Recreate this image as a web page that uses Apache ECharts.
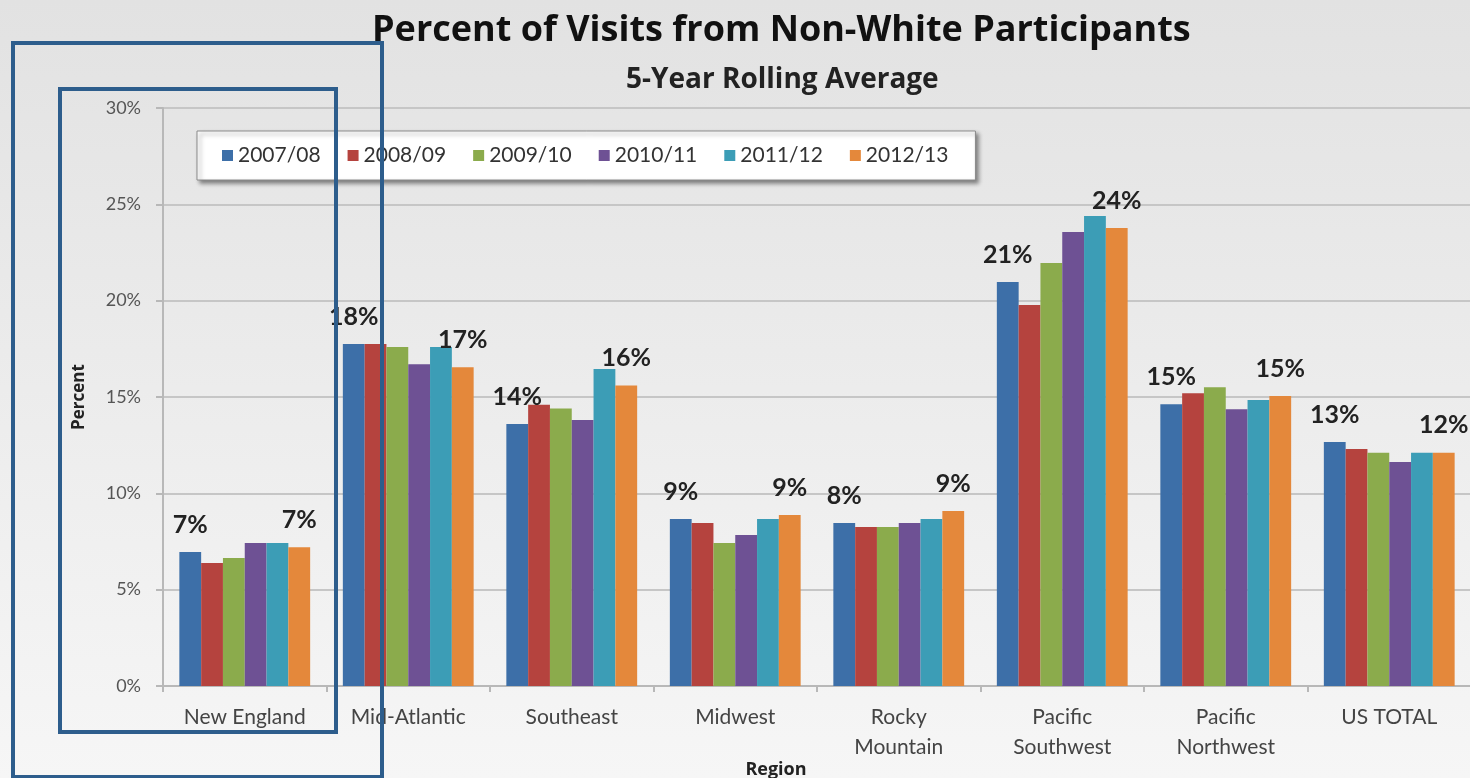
<!DOCTYPE html>
<html>
<head>
<meta charset="utf-8">
<script src="https://cdn.jsdelivr.net/npm/echarts@6/dist/echarts.min.js"></script>
<style>
html,body{margin:0;padding:0;}
#chart{width:1470px;height:778px;}
</style>
</head>
<body>
<div id="chart"></div>
<script>
const regions = ['New England', 'Mid-Atlantic', 'Southeast', 'Midwest', 'Rocky\nMountain', 'Pacific\nSouthwest', 'Pacific\nNorthwest', 'US TOTAL'];
const seriesNames = ['2007/08', '2008/09', '2009/10', '2010/11', '2011/12', '2012/13'];
const y2007 = [6.95, 17.75, 13.6, 8.67, 8.46, 20.97, 14.63, 12.66];
const y2008 = [6.38, 17.75, 14.6, 8.46, 8.25, 19.77, 15.2, 12.3];
const y2009 = [6.64, 17.6, 14.4, 7.42, 8.25, 21.95, 15.5, 12.1];
const y2010 = [7.42, 16.7, 13.8, 7.84, 8.46, 23.56, 14.37, 11.62];
const y2011 = [7.42, 17.6, 16.45, 8.67, 8.67, 24.39, 14.84, 12.1];
const y2012 = [7.2, 16.55, 15.6, 8.87, 9.08, 23.77, 15.05, 12.1];
const yTicks = [0, 5, 10, 15, 20, 25, 30];

const allValues = [y2007, y2008, y2009, y2010, y2011, y2012];
const colors = ['#3d6fa8', '#b5433e', '#8bab4c', '#6e5194', '#3c9db6', '#e4883b'];
const FONT = 'Lato, "Open Sans", sans-serif';
const BOLD = '"Open Sans", Lato, sans-serif';

const chart = echarts.init(document.getElementById('chart'));

const series = seriesNames.map((name, i) => ({
  name: name,
  type: 'bar',
  data: allValues[i],
  barGap: '0%',
  barCategoryGap: '20%',
  itemStyle: { color: colors[i] },
  label: {
    show: i === 0 || i === seriesNames.length - 1,
    position: 'top',
    distance: 15,
    formatter: p => Math.round(p.value) + '%',
    fontFamily: FONT,
    fontWeight: 'bold',
    fontSize: 25,
    color: '#222'
  }
}));

chart.setOption({
  backgroundColor: {
    type: 'linear', x: 0, y: 0, x2: 0, y2: 1,
    colorStops: [{ offset: 0, color: '#e2e2e2' }, { offset: 0.5, color: '#ececec' }, { offset: 1, color: '#f6f6f6' }]
  },
  textStyle: { fontFamily: FONT },
  title: [
    {
      text: 'Percent of Visits from Non-White Participants',
      left: 367, top: 8,
      textStyle: { fontFamily: BOLD, fontWeight: 'bold', fontSize: 36, color: '#111' }
    },
    {
      text: '5-Year Rolling Average',
      left: 621, top: 61,
      textStyle: { fontFamily: BOLD, fontWeight: 'bold', fontSize: 28, color: '#222' }
    }
  ],
  legend: {
    data: seriesNames,
    left: 197, top: 131,
    padding: [14, 27, 14, 25],
    itemGap: 27,
    itemWidth: 11, itemHeight: 11,
    icon: 'rect',
    backgroundColor: '#ffffff',
    borderColor: '#8a8a8a',
    borderWidth: 1,
    shadowColor: 'rgba(0,0,0,0.45)',
    shadowBlur: 4,
    shadowOffsetX: 3,
    shadowOffsetY: 3,
    textStyle: { fontFamily: FONT, fontSize: 21, color: '#333' }
  },
  grid: { left: 163, right: -1, top: 108, bottom: 92, containLabel: false, outerBoundsMode: 'none' },
  xAxis: {
    type: 'category',
    data: regions,
    name: 'Region',
    nameLocation: 'middle',
    nameGap: 75,
    nameMoveOverlap: false,
    nameTextStyle: { fontFamily: BOLD, fontWeight: 'bold', fontSize: 18, color: '#222', padding: [0, 82, 0, 0] },
    axisLine: { show: true, lineStyle: { color: '#b8b8b8', width: 2 } },
    axisTick: { show: true, alignWithLabel: false, length: 6, lineStyle: { color: '#b8b8b8', width: 2 } },
    axisLabel: { fontFamily: FONT, fontSize: 21, color: '#444', margin: 16, lineHeight: 30 }
  },
  yAxis: {
    type: 'value',
    min: yTicks[0], max: yTicks[yTicks.length - 1], interval: 5,
    name: 'Percent',
    nameLocation: 'middle',
    nameRotate: 90,
    nameGap: 75,
    nameMoveOverlap: false,
    nameTextStyle: { fontFamily: BOLD, fontWeight: 'bold', fontSize: 17, color: '#222' },
    axisLine: { show: true, lineStyle: { color: '#b8b8b8', width: 2 } },
    axisTick: { show: true, length: 7, lineStyle: { color: '#b8b8b8', width: 2 } },
    splitLine: { show: true, lineStyle: { color: '#c6c6c6', width: 2 } },
    axisLabel: { fontFamily: FONT, fontSize: 18, color: '#555', margin: 22, formatter: '{value}%' }
  },
  graphic: [
    { type: 'rect', z: 100, shape: { x: 13, y: 43, width: 369, height: 734 }, style: { fill: 'none', stroke: '#2d5d8c', lineWidth: 4 } },
    { type: 'rect', z: 100, shape: { x: 60, y: 89, width: 276, height: 643 }, style: { fill: 'none', stroke: '#2d5d8c', lineWidth: 4 } }
  ],
  series: series
});
</script>
</body>
</html>
